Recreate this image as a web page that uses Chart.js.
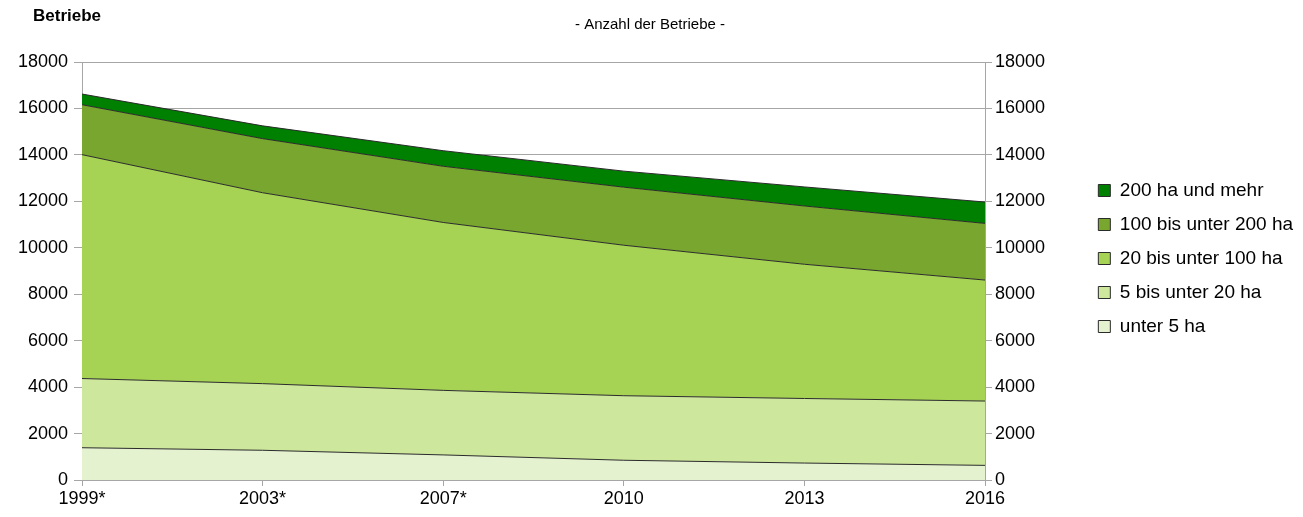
<!DOCTYPE html>
<html>
<head>
<meta charset="utf-8">
<script src="https://cdn.jsdelivr.net/npm/chart.js@4/dist/chart.umd.min.js"></script>
<style>
  body { margin: 0; background: #fff; font-family: "Liberation Sans", Arial, sans-serif; }
  #wrap { position: relative; width: 1303px; height: 517px; }
  #yTitle { position: absolute; left: 33px; top: 6px; font-size: 17px; font-weight: bold; color: #000; }
</style>
</head>
<body>
<div id="wrap">
  <canvas id="myAreaChart" width="1303" height="517"></canvas>
  <div id="yTitle">Betriebe</div>
</div>
<script>
///////////////////////////////////////
//////////// Data /////////////////////
///////////////////////////////////////

const years = ['1999*', '2003*', '2007*', '2010', '2013', '2016'];

// Betriebe nach Größenklassen (bottom to top)
const unter5 = [1390, 1280, 1080, 850, 730, 630];
const bis20 = [2980, 2870, 2780, 2780, 2780, 2770];
const bis100 = [9640, 8220, 7230, 6480, 5780, 5210];
const bis200 = [2150, 2330, 2420, 2500, 2510, 2440];
const ueber200 = [460, 550, 670, 690, 820, 920];

const seriesNames = ['unter 5 ha', '5 bis unter 20 ha', '20 bis unter 100 ha', '100 bis unter 200 ha', '200 ha und mehr'];
const yTicks = [0, 2000, 4000, 6000, 8000, 10000, 12000, 14000, 16000, 18000];

///////////////////////////////////////
//////////// Area Chart ///////////////
///////////////////////////////////////

const fills = ['#E4F2D0', '#CDE79D', '#A6D354', '#78A62E', '#008000'];
const allSeries = [unter5, bis20, bis100, bis200, ueber200];

const fontFamily = '"Liberation Sans", Arial, sans-serif';
const tickFont = { family: fontFamily, size: 18 };
const gridGrey = '#A6A6A6';

const ctx = document.getElementById('myAreaChart');
const myAreaChart = new Chart(ctx, {
    type: 'line',
    data: {
        labels: years,
        datasets: allSeries.map((vals, i) => ({
            label: seriesNames[i],
            data: vals,
            backgroundColor: fills[i],
            borderColor: '#2b2b2b',
            borderWidth: 1,
            fill: i === 0 ? 'origin' : '-1',
            pointRadius: 0,
            pointHoverRadius: 0,
            tension: 0,
            yAxisID: 'y'
        }))
    },
    options: {
        responsive: false,
        animation: false,
        layout: {
            padding: { top: 0, right: 3, bottom: 0, left: 0 }
        },
        scales: {
            x: {
                type: 'category',
                offset: false,
                afterFit: (scale) => { scale.height = 37; },
                ticks: {
                    color: '#000',
                    font: tickFont,
                    maxRotation: 0,
                    padding: 2
                },
                grid: {
                    display: true,
                    drawOnChartArea: false,
                    tickLength: 6,
                    color: gridGrey
                },
                border: { color: gridGrey }
            },
            y: {
                stacked: true,
                position: 'left',
                min: 0,
                max: 18000,
                afterBuildTicks: (scale) => { scale.ticks = yTicks.map(v => ({ value: v })); },
                afterFit: (scale) => { scale.width = 82; },
                ticks: {
                    color: '#000',
                    font: tickFont,
                    padding: 6,
                    callback: (v) => v
                },
                grid: {
                    color: gridGrey,
                    tickLength: 8
                },
                border: { color: gridGrey }
            },
            y2: {
                position: 'right',
                min: 0,
                max: 18000,
                afterBuildTicks: (scale) => { scale.ticks = yTicks.map(v => ({ value: v })); },
                afterFit: (scale) => {
                    const legendW = scale.chart.legend ? scale.chart.legend.width : 0;
                    scale.width = scale.chart.width - 985 - legendW - 3;
                },
                ticks: {
                    color: '#000',
                    font: tickFont,
                    padding: 3,
                    callback: (v) => v
                },
                grid: {
                    drawOnChartArea: false,
                    color: gridGrey,
                    tickLength: 7
                },
                border: { color: gridGrey }
            }
        },
        plugins: {
            title: {
                display: true,
                text: '- Anzahl der Betriebe -',
                color: '#000',
                font: { family: fontFamily, size: 15, weight: 'normal' },
                padding: { top: 16, bottom: 28 }
            },
            legend: {
                position: 'right',
                reverse: true,
                labels: {
                    boxWidth: 12,
                    boxHeight: 12,
                    padding: 15,
                    color: '#000',
                    font: { family: fontFamily, size: 19 }
                }
            },
            tooltip: { enabled: false },
            filler: { propagate: false }
        }
    }
});
</script>
</body>
</html>
